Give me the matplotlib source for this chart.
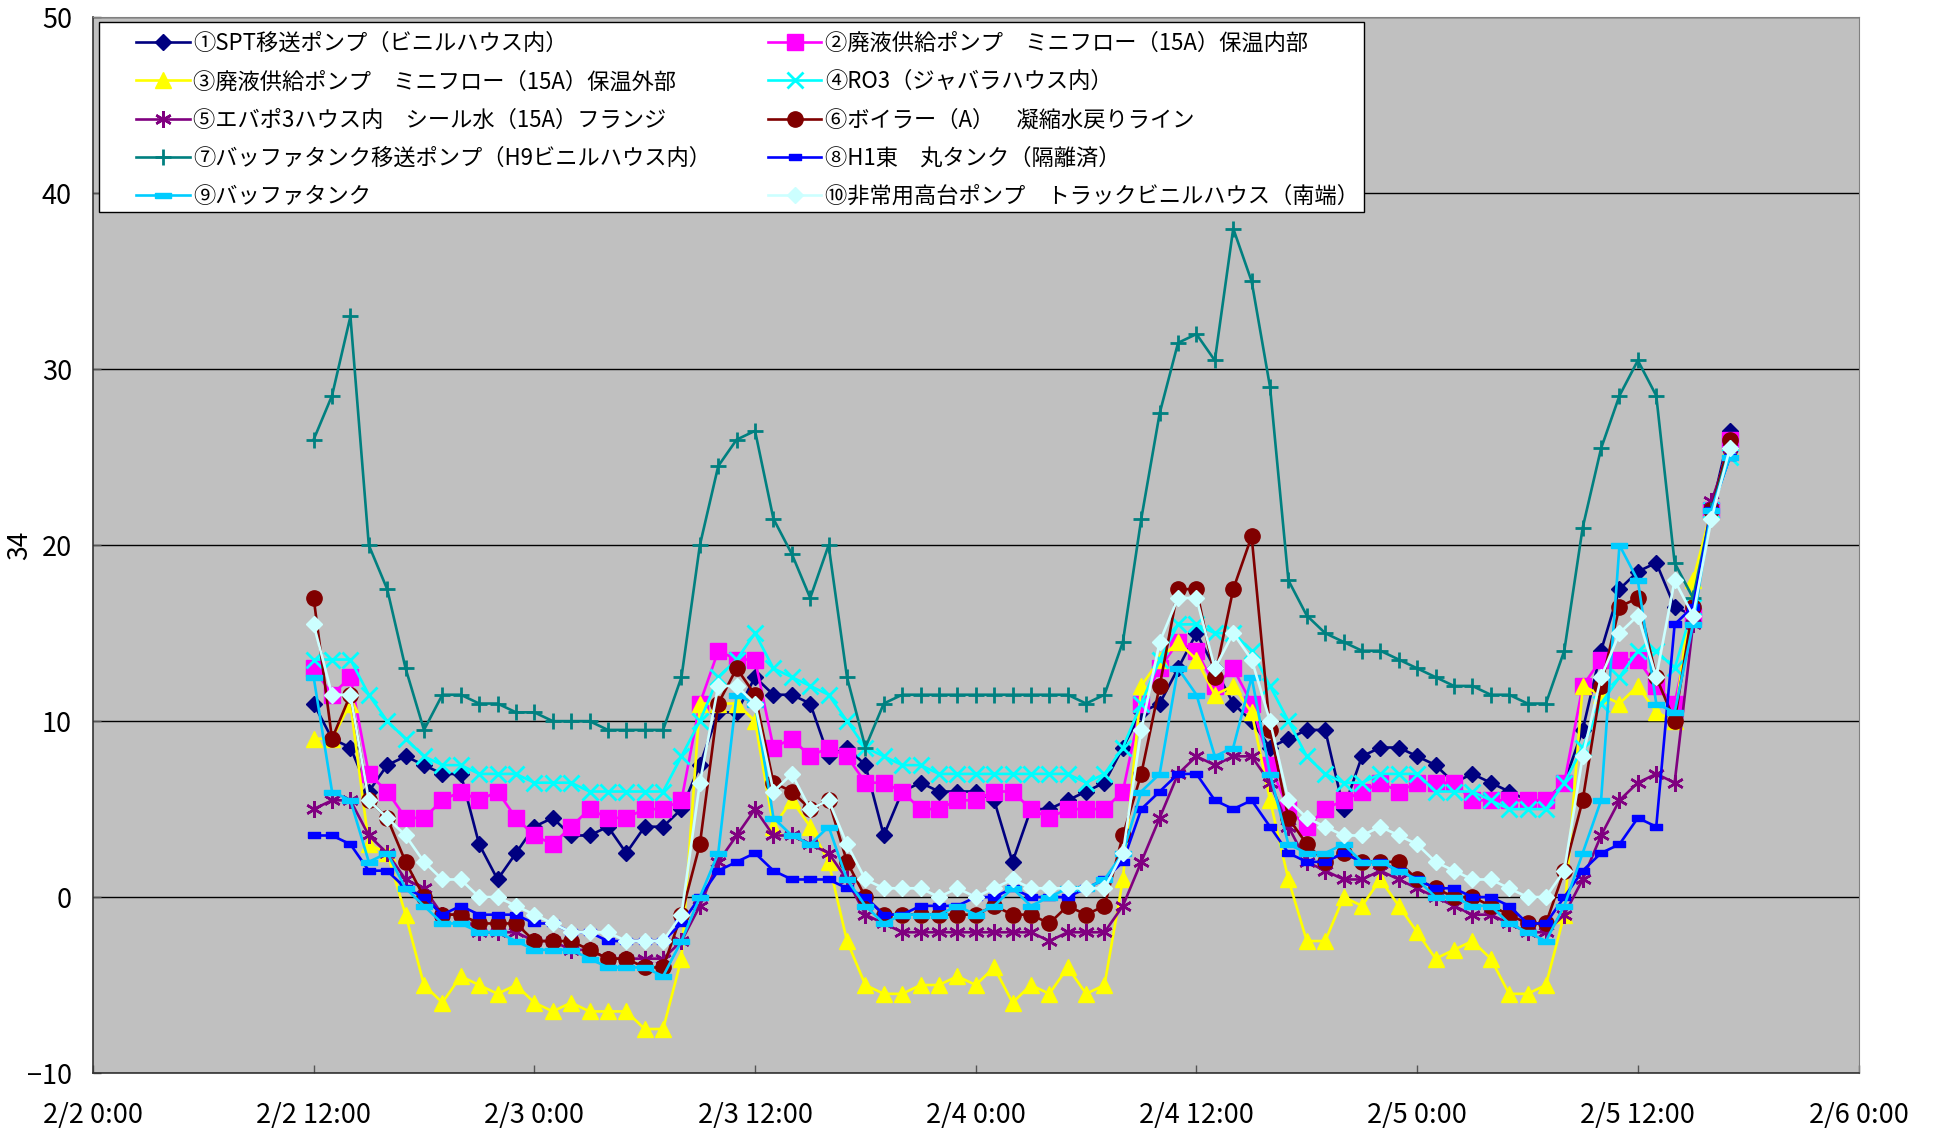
import matplotlib
matplotlib.use("Agg")
import matplotlib.pyplot as plt
from matplotlib.patches import Rectangle
import pandas as pd

plt.rcParams['font.family'] = ['Noto Sans CJK JP', 'DejaVu Sans']

# hourly readings from 2/2 12:00 to 2/5 17:00
times = pd.date_range('2024-02-02 12:00', periods=78, freq='h')

s1 = [11.0, 9.0, 8.5, 6.0, 7.5, 8.0, 7.5, 7.0, 7.0, 3.0,
      1.0, 2.5, 4.0, 4.5, 3.5, 3.5, 4.0, 2.5, 4.0, 4.0,
      5.0, 7.5, 10.5, 10.5, 12.5, 11.5, 11.5, 11.0, 8.0, 8.5,
      7.5, 3.5, 6.0, 6.5, 6.0, 6.0, 6.0, 5.5, 2.0, 5.0,
      5.0, 5.5, 6.0, 6.5, 8.5, 10.5, 11.0, 13.0, 15.0, 13.0,
      11.0, 10.0, 8.5, 9.0, 9.5, 9.5, 5.0, 8.0, 8.5, 8.5,
      8.0, 7.5, 6.5, 7.0, 6.5, 6.0, 5.5, 5.5, 6.5, 9.5,
      14.0, 17.5, 18.5, 19.0, 16.5, 16.0, 22.0, 26.5]
s2 = [13.0, 11.5, 12.5, 7.0, 6.0, 4.5, 4.5, 5.5, 6.0, 5.5,
      6.0, 4.5, 3.5, 3.0, 4.0, 5.0, 4.5, 4.5, 5.0, 5.0,
      5.5, 11.0, 14.0, 13.5, 13.5, 8.5, 9.0, 8.0, 8.5, 8.0,
      6.5, 6.5, 6.0, 5.0, 5.0, 5.5, 5.5, 6.0, 6.0, 5.0,
      4.5, 5.0, 5.0, 5.0, 6.0, 11.0, 13.0, 14.5, 14.0, 12.0,
      13.0, 11.0, 7.5, 5.0, 4.0, 5.0, 5.5, 6.0, 6.5, 6.0,
      6.5, 6.5, 6.5, 5.5, 5.5, 5.5, 5.5, 5.5, 6.5, 12.0,
      13.5, 13.5, 13.5, 12.0, 11.0, 16.0, 22.0, 26.0]
s3 = [9.0, 9.0, 11.0, 3.0, 2.5, -1.0, -5.0, -6.0, -4.5, -5.0,
      -5.5, -5.0, -6.0, -6.5, -6.0, -6.5, -6.5, -6.5, -7.5, -7.5,
      -3.5, 11.0, 11.0, 11.0, 10.0, 4.0, 5.5, 4.0, 2.0, -2.5,
      -5.0, -5.5, -5.5, -5.0, -5.0, -4.5, -5.0, -4.0, -6.0, -5.0,
      -5.5, -4.0, -5.5, -5.0, 1.0, 12.0, 13.5, 14.5, 13.5, 11.5,
      12.0, 10.5, 5.5, 1.0, -2.5, -2.5, 0.0, -0.5, 1.0, -0.5,
      -2.0, -3.5, -3.0, -2.5, -3.5, -5.5, -5.5, -5.0, -1.0, 12.0,
      11.5, 11.0, 12.0, 10.5, 10.0, 18.0, 22.0, 25.5]
s4 = [13.5, 13.5, 13.5, 11.5, 10.0, 9.0, 8.0, 7.5, 7.5, 7.0,
      7.0, 7.0, 6.5, 6.5, 6.5, 6.0, 6.0, 6.0, 6.0, 6.0,
      8.0, 10.0, 12.5, 13.5, 15.0, 13.0, 12.5, 12.0, 11.5, 10.0,
      8.5, 8.0, 7.5, 7.5, 7.0, 7.0, 7.0, 7.0, 7.0, 7.0,
      7.0, 7.0, 6.5, 7.0, 8.5, 11.0, 13.5, 15.5, 15.5, 15.0,
      15.0, 14.0, 12.0, 10.0, 8.0, 7.0, 6.5, 6.5, 7.0, 7.0,
      7.0, 6.0, 6.0, 6.0, 5.5, 5.0, 5.0, 5.0, 6.5, 8.5,
      11.0, 12.5, 14.0, 14.0, 13.0, 16.5, 22.0, 25.0]
s5 = [5.0, 5.5, 5.5, 3.5, 2.5, 1.0, 0.5, -1.0, -1.0, -2.0,
      -2.0, -2.0, -2.5, -2.5, -3.0, -3.0, -3.5, -3.5, -3.5, -3.5,
      -2.5, -0.5, 2.0, 3.5, 5.0, 3.5, 3.5, 3.0, 2.5, 1.0,
      -1.0, -1.5, -2.0, -2.0, -2.0, -2.0, -2.0, -2.0, -2.0, -2.0,
      -2.5, -2.0, -2.0, -2.0, -0.5, 2.0, 4.5, 7.0, 8.0, 7.5,
      8.0, 8.0, 6.5, 4.0, 2.0, 1.5, 1.0, 1.0, 1.5, 1.0,
      0.5, 0.0, -0.5, -1.0, -1.0, -1.5, -2.0, -2.0, -1.0, 1.0,
      3.5, 5.5, 6.5, 7.0, 6.5, 15.5, 22.5, 25.5]
s6 = [17.0, 9.0, 11.5, 5.5, 4.5, 2.0, 0.0, -1.0, -1.0, -1.5,
      -1.5, -1.5, -2.5, -2.5, -2.5, -3.0, -3.5, -3.5, -4.0, -4.0,
      -1.0, 3.0, 11.0, 13.0, 11.5, 6.5, 6.0, 5.0, 5.5, 2.0,
      0.0, -1.0, -1.0, -1.0, -1.0, -1.0, -1.0, -0.5, -1.0, -1.0,
      -1.5, -0.5, -1.0, -0.5, 3.5, 7.0, 12.0, 17.5, 17.5, 12.5,
      17.5, 20.5, 9.5, 4.5, 3.0, 2.0, 2.5, 2.0, 2.0, 2.0,
      1.0, 0.5, 0.0, 0.0, -0.5, -1.0, -1.5, -1.5, 1.5, 5.5,
      12.0, 16.5, 17.0, 12.5, 10.0, 16.5, 22.0, 26.0]
s7 = [26.0, 28.5, 33.0, 20.0, 17.5, 13.0, 9.5, 11.5, 11.5, 11.0,
      11.0, 10.5, 10.5, 10.0, 10.0, 10.0, 9.5, 9.5, 9.5, 9.5,
      12.5, 20.0, 24.5, 26.0, 26.5, 21.5, 19.5, 17.0, 20.0, 12.5,
      8.5, 11.0, 11.5, 11.5, 11.5, 11.5, 11.5, 11.5, 11.5, 11.5,
      11.5, 11.5, 11.0, 11.5, 14.5, 21.5, 27.5, 31.5, 32.0, 30.5,
      38.0, 35.0, 29.0, 18.0, 16.0, 15.0, 14.5, 14.0, 14.0, 13.5,
      13.0, 12.5, 12.0, 12.0, 11.5, 11.5, 11.0, 11.0, 14.0, 21.0,
      25.5, 28.5, 30.5, 28.5, 19.0, 17.0, 22.0, 25.5]
s8 = [3.5, 3.5, 3.0, 1.5, 1.5, 0.5, 0.0, -1.0, -0.5, -1.0,
      -1.0, -1.0, -1.5, -1.5, -2.0, -2.0, -2.5, -2.5, -2.5, -2.5,
      -1.5, 0.0, 1.5, 2.0, 2.5, 1.5, 1.0, 1.0, 1.0, 0.5,
      0.0, -1.0, -1.0, -0.5, -0.5, -0.5, 0.0, 0.0, 0.5, 0.0,
      0.0, 0.0, 0.5, 1.0, 2.0, 5.0, 6.0, 7.0, 7.0, 5.5,
      5.0, 5.5, 4.0, 2.5, 2.0, 2.0, 2.5, 2.0, 2.0, 1.5,
      1.0, 0.5, 0.5, 0.0, 0.0, -0.5, -1.5, -1.5, 0.0, 1.5,
      2.5, 3.0, 4.5, 4.0, 15.5, 16.5, 22.0, 25.0]
s9 = [12.5, 6.0, 5.5, 2.0, 2.5, 0.5, -0.5, -1.5, -1.5, -2.0,
      -2.0, -2.5, -3.0, -3.0, -3.0, -3.5, -4.0, -4.0, -4.0, -4.5,
      -2.5, 0.0, 2.5, 11.5, 11.0, 4.5, 3.5, 3.0, 4.0, 1.0,
      -0.5, -1.5, -1.0, -1.0, -1.0, -0.5, -1.0, -0.5, 0.5, -0.5,
      0.0, 0.5, 0.5, 1.0, 2.5, 6.0, 7.0, 13.0, 11.5, 8.0,
      8.5, 12.5, 7.0, 3.0, 2.5, 2.5, 3.0, 2.0, 2.0, 1.5,
      1.0, 0.0, 0.0, -0.5, -0.5, -1.5, -2.0, -2.5, -0.5, 2.5,
      5.5, 20.0, 18.0, 11.0, 10.5, 15.5, 22.0, 25.0]
s10 = [15.5, 11.5, 11.5, 5.5, 4.5, 3.5, 2.0, 1.0, 1.0, 0.0,
       0.0, -0.5, -1.0, -1.5, -2.0, -2.0, -2.0, -2.5, -2.5, -2.5,
       -1.0, 6.5, 12.0, 12.0, 11.0, 6.0, 7.0, 5.0, 5.5, 3.0,
       1.0, 0.5, 0.5, 0.5, 0.0, 0.5, 0.0, 0.5, 1.0, 0.5,
       0.5, 0.5, 0.5, 0.5, 2.5, 9.5, 14.5, 17.0, 17.0, 13.0,
       15.0, 13.5, 10.0, 5.5, 4.5, 4.0, 3.5, 3.5, 4.0, 3.5,
       3.0, 2.0, 1.5, 1.0, 1.0, 0.5, 0.0, 0.0, 1.5, 8.0,
       12.5, 15.0, 16.0, 12.5, 18.0, 16.0, 21.5, 25.5]

labels = ['①SPT移送ポンプ（ビニルハウス内）',
          '②廃液供給ポンプ\u3000ミニフロー（15A）保温内部',
          '③廃液供給ポンプ\u3000ミニフロー（15A）保温外部',
          '④RO3（ジャバラハウス内）',
          '⑤エバポ3ハウス内\u3000シール水（15A）フランジ',
          '⑥ボイラー（A）\u3000凝縮水戻りライン',
          '⑦バッファタンク移送ポンプ（H9ビニルハウス内）',
          '⑧H1東\u3000丸タンク（隔離済）',
          '⑨バッファタンク',
          '⑩非常用高台ポンプ\u3000トラックビニルハウス（南端）']

tick_times = pd.date_range('2024-02-02 00:00', '2024-02-06 00:00', freq='12h')
tick_labels = ['2/2 0:00', '2/2 12:00', '2/3 0:00', '2/3 12:00', '2/4 0:00',
               '2/4 12:00', '2/5 0:00', '2/5 12:00', '2/6 0:00']

series = [s1, s2, s3, s4, s5, s6, s7, s8, s9, s10]

short_bar = [(-1, -0.5), (1, -0.5), (1, 0.5), (-1, 0.5), (-1, -0.5)]
long_bar = [(-1, -0.3), (1, -0.3), (1, 0.3), (-1, 0.3), (-1, -0.3)]

styles = [
    dict(color='#000080', marker='D', ms=8),
    dict(color='#FF00FF', marker='s', ms=11),
    dict(color='#FFFF00', marker='^', ms=12),
    dict(color='#00FFFF', marker='x', ms=11, mew=2),
    dict(color='#800080', marker=(6, 2, 0), ms=12, mew=1.8),
    dict(color='#800000', marker='o', ms=11),
    dict(color='#008080', marker='+', ms=11, mew=2),
    dict(color='#0000FF', marker=short_bar, ms=8),
    dict(color='#00CCFF', marker=long_bar, ms=12),
    dict(color='#CCFFFF', marker='D', ms=8.5),
]

fig = plt.figure(figsize=(19.36, 11.29), dpi=100)
ax = fig.add_axes([0.048, 0.0496, 0.912, 0.935])
ax.set_facecolor('#C0C0C0')

lines = []
for vals, lab, st in zip(series, labels, styles):
    ln, = ax.plot(times, vals, lw=1.9, label=lab, **st)
    lines.append(ln)

ax.set_xlim(tick_times[0], tick_times[-1])
ax.set_ylim(-10, 50)
ax.set_yticks(range(-10, 51, 10))
ax.set_xticks(tick_times)
ax.set_xticklabels(tick_labels)
ax.yaxis.grid(True, color='black', lw=1)
ax.set_axisbelow(True)
ax.tick_params(labelsize=19.5, length=5.5, width=1, direction='in', color='#555555')
ax.tick_params(axis='x', pad=21)
ax.tick_params(axis='y', pad=15)
for side in ['top', 'right']:
    ax.spines[side].set_color('#808080')
for side in ['left', 'bottom']:
    ax.spines[side].set_color('#333333')
    ax.spines[side].set_linewidth(1.2)
ax.set_ylabel('34', fontsize=19)
ax.yaxis.set_label_coords(-0.034, 0.5)

# legend box drawn separately so the inner padding matches
ax.add_patch(Rectangle((0.0035, 0.8152), 0.7163, 0.1801, transform=ax.transAxes,
                       facecolor='white', edgecolor='black', lw=1.0,
                       zorder=4.9, clip_on=False))

# legend filled row by row like the original
order = [0, 2, 4, 6, 8, 1, 3, 5, 7, 9]
leg = ax.legend([lines[k] for k in order], [labels[k] for k in order],
                ncol=2, loc='upper left', bbox_to_anchor=(0.0245, 0.986),
                fontsize=16, frameon=False, handlelength=2.4,
                labelspacing=0.68, borderpad=0.0, handletextpad=0.17,
                columnspacing=2.55, borderaxespad=0.0)
leg.set_zorder(5)

fig.savefig('out.png', dpi=100)
